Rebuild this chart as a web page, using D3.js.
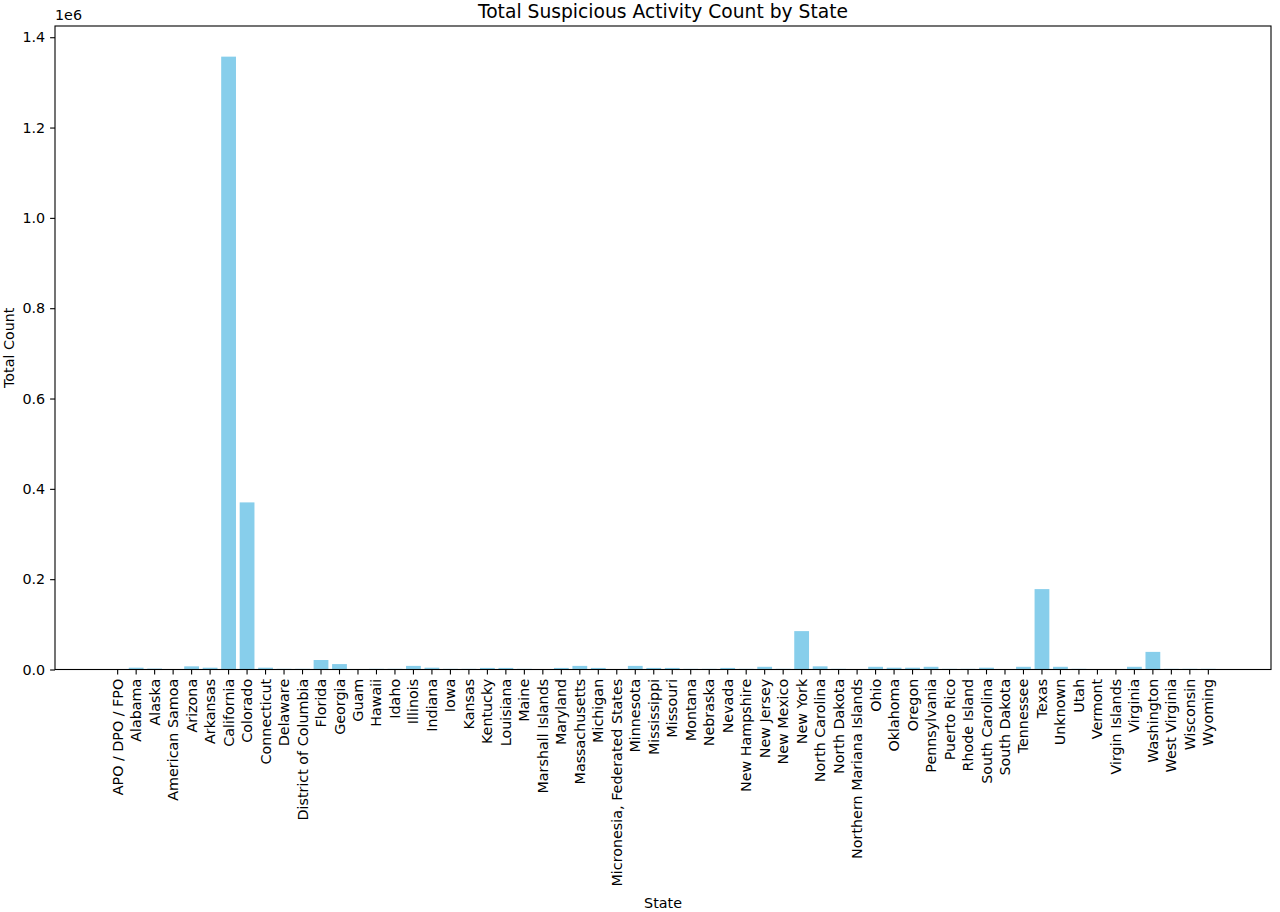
<!DOCTYPE html>
<html>
<head>
<meta charset="utf-8">
<script src="https://cdn.jsdelivr.net/npm/d3@7"></script>
<style>
  html, body { margin: 0; padding: 0; background: #fff; }
  svg { display: block; font-family: "DejaVu Sans", sans-serif; }
</style>
</head>
<body>
<svg id="chart" width="1280" height="912"></svg>
<script>
const states = ["APO / DPO / FPO","Alabama","Alaska","American Samoa","Arizona","Arkansas","California","Colorado","Connecticut","Delaware","District of Columbia","Florida","Georgia","Guam","Hawaii","Idaho","Illinois","Indiana","Iowa","Kansas","Kentucky","Louisiana","Maine","Marshall Islands","Maryland","Massachusetts","Michigan","Micronesia, Federated States","Minnesota","Mississippi","Missouri","Montana","Nebraska","Nevada","New Hampshire","New Jersey","New Mexico","New York","North Carolina","North Dakota","Northern Mariana Islands","Ohio","Oklahoma","Oregon","Pennsylvania","Puerto Rico","Rhode Island","South Carolina","South Dakota","Tennessee","Texas","Unknown","Utah","Vermont","Virgin Islands","Virginia","Washington","West Virginia","Wisconsin","Wyoming"];
const totalCounts = [100,4000,2000,100,7000,4000,1357000,370000,4000,1500,1500,21000,12000,100,1500,1500,8000,4000,1500,1500,3500,3500,1500,100,3500,8000,3500,100,8000,3500,3500,1500,1500,3500,1500,6000,1500,85000,7000,1500,100,6000,4000,4000,6000,1500,1500,4000,100,6000,178000,6000,1500,100,100,6000,39000,1500,1500,1500];
const yTicks = [0, 200000, 400000, 600000, 800000, 1000000, 1200000, 1400000];

const svg = d3.select("#chart");
const W = 1280, H = 912;
const m = { left: 55, top: 26, right: 9, bottom: 912 - 669.5 };
const x0 = m.left, x1 = W - m.right, y0 = H - m.bottom, y1 = m.top;
const fs = "14.3px";

const x = d3.scaleBand().domain(states).range([x0, x1]).paddingInner(0.2).paddingOuter(2.99);
const y = d3.scaleLinear().domain([0, d3.max(totalCounts) * 1.05]).range([y0, y1]);

// bars
svg.append("g").selectAll("rect").data(states).join("rect")
  .attr("x", d => x(d))
  .attr("width", x.bandwidth())
  .attr("y", (d, i) => y(totalCounts[i]))
  .attr("height", (d, i) => y0 - y(totalCounts[i]))
  .attr("fill", "#87CEEB");

// x axis
const xAxis = d3.axisBottom(x).tickSizeOuter(0).tickSize(4.9).tickPadding(4.9);
const gx = svg.append("g").attr("transform", `translate(0,${y0})`).call(xAxis);
gx.select(".domain").remove();
gx.selectAll(".tick line").attr("stroke", "#000").attr("stroke-width", 1.1);
gx.selectAll(".tick text")
  .attr("fill", "#000")
  .style("font-size", fs)
  .style("font-family", "'DejaVu Sans'")
  .attr("transform", "rotate(-90)")
  .attr("text-anchor", "end")
  .attr("x", -9.3)
  .attr("y", 0)
  .attr("dy", "0.35em");

// y axis
const yAxis = d3.axisLeft(y).tickValues(yTicks).tickFormat(d => (d / 1e6).toFixed(1)).tickSizeOuter(0).tickSize(4.9).tickPadding(4.9);
const gy = svg.append("g").attr("transform", `translate(${x0},0)`).call(yAxis);
gy.select(".domain").remove();
gy.selectAll(".tick line").attr("stroke", "#000").attr("stroke-width", 1.1);
gy.selectAll(".tick text").attr("fill", "#000").style("font-size", fs).style("font-family", "'DejaVu Sans'");

// frame
svg.append("rect").attr("x", x0).attr("y", y1).attr("width", x1 - x0).attr("height", y0 - y1)
  .attr("fill", "none").attr("stroke", "#000").attr("stroke-width", 1.1);

// offset text
svg.append("text").attr("x", x0).attr("y", y1 - 6).style("font-size", fs).text("1e6");

// title
svg.append("text").attr("x", (x0 + x1) / 2).attr("y", 18).attr("text-anchor", "middle")
  .style("font-size", "18.7px").text("Total Suspicious Activity Count by State");

// axis labels
svg.append("text").attr("x", (x0 + x1) / 2).attr("y", 908).attr("text-anchor", "middle")
  .style("font-size", fs).text("State");
svg.append("text").attr("transform", `translate(14,${(y0 + y1) / 2}) rotate(-90)`).attr("text-anchor", "middle")
  .style("font-size", fs).text("Total Count");
</script>
</body>
</html>
